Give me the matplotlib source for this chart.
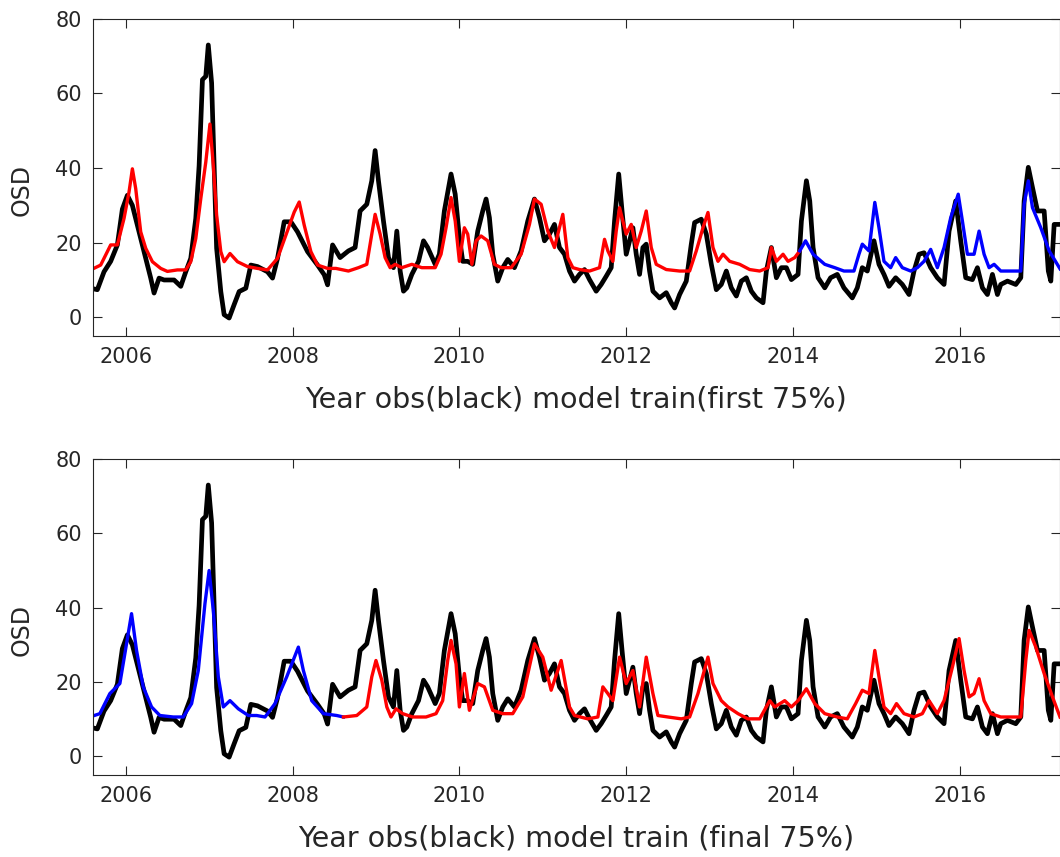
import numpy as np
import matplotlib
matplotlib.use("Agg")
import matplotlib.pyplot as plt

# ----- observed OSD (black), same in both panels -----
obs_year = [2005.58, 2005.66, 2005.74, 2005.82, 2005.90, 2005.96, 2006.02, 2006.08, 2006.14, 2006.22,
            2006.30, 2006.34, 2006.40, 2006.46, 2006.58, 2006.66, 2006.72, 2006.78, 2006.84, 2006.88,
            2006.92, 2006.96, 2006.99, 2007.03, 2007.06, 2007.09, 2007.14, 2007.18, 2007.24, 2007.30,
            2007.36, 2007.44, 2007.50, 2007.58, 2007.70, 2007.76, 2007.82, 2007.90, 2007.98, 2008.06,
            2008.18, 2008.30, 2008.38, 2008.42, 2008.48, 2008.57, 2008.67, 2008.75, 2008.81, 2008.89,
            2008.95, 2008.99, 2009.03, 2009.09, 2009.15, 2009.21, 2009.25, 2009.29, 2009.33, 2009.37,
            2009.43, 2009.51, 2009.57, 2009.62, 2009.71, 2009.76, 2009.82, 2009.90, 2009.95, 2010.00,
            2010.04, 2010.10, 2010.16, 2010.22, 2010.28, 2010.32, 2010.36, 2010.40, 2010.46, 2010.52,
            2010.58, 2010.66, 2010.74, 2010.82, 2010.90, 2010.96, 2011.02, 2011.08, 2011.14, 2011.20,
            2011.26, 2011.32, 2011.38, 2011.44, 2011.50, 2011.56, 2011.64, 2011.70, 2011.76, 2011.82,
            2011.86, 2011.91, 2011.95, 2012.00, 2012.04, 2012.08, 2012.12, 2012.16, 2012.20, 2012.24,
            2012.28, 2012.32, 2012.40, 2012.48, 2012.54, 2012.58, 2012.64, 2012.72, 2012.78, 2012.82,
            2012.90, 2012.96, 2013.02, 2013.08, 2013.14, 2013.20, 2013.26, 2013.32, 2013.38, 2013.44,
            2013.50, 2013.56, 2013.64, 2013.68, 2013.74, 2013.80, 2013.86, 2013.92, 2013.98, 2014.06,
            2014.10, 2014.16, 2014.20, 2014.24, 2014.30, 2014.38, 2014.45, 2014.53, 2014.61, 2014.71,
            2014.77, 2014.83, 2014.89, 2014.97, 2015.03, 2015.09, 2015.15, 2015.23, 2015.31, 2015.39,
            2015.45, 2015.51, 2015.57, 2015.65, 2015.73, 2015.81, 2015.87, 2015.95, 2016.01, 2016.07,
            2016.15, 2016.21, 2016.27, 2016.33, 2016.39, 2016.45, 2016.49, 2016.57, 2016.67, 2016.73,
            2016.77, 2016.82, 2016.87, 2016.93, 2017.01, 2017.06, 2017.09, 2017.13, 2017.20]
obs_val = [7.8, 7.4, 12.2, 15.0, 19.4, 29.0, 32.7, 30.0, 24.7, 17.6,
           10.5, 6.5, 10.5, 10.0, 10.0, 8.3, 12.2, 15.8, 26.5, 40.6,
           63.7, 64.6, 73.0, 62.8, 40.6, 18.5, 6.9, 0.7, -0.2, 3.4,
           6.9, 7.8, 14.0, 13.6, 12.2, 10.5, 15.8, 25.6, 25.6, 22.9,
           17.6, 14.0, 11.4, 8.7, 19.4, 16.0, 17.8, 18.7, 28.5, 30.3,
           36.6, 44.7, 36.6, 25.8, 16.0, 13.3, 23.1, 12.4, 7.0, 7.9,
           11.5, 15.0, 20.5, 18.7, 14.2, 16.9, 28.5, 38.4, 33.0, 21.4,
           15.0, 15.0, 14.2, 23.1, 28.5, 31.7, 26.7, 16.9, 9.7, 13.3,
           15.5, 13.3, 17.8, 25.8, 31.7, 26.7, 20.5, 22.3, 24.9, 18.7,
           16.9, 12.4, 9.7, 11.5, 12.8, 10.1, 7.0, 8.8, 11.0, 13.3,
           25.8, 38.4, 28.5, 16.9, 20.5, 24.0, 16.9, 11.5, 18.7, 19.6,
           12.4, 7.0, 5.2, 6.6, 3.9, 2.5, 6.1, 9.7, 19.6, 25.4,
           26.3, 22.3, 14.2, 7.4, 8.8, 12.4, 7.9, 5.7, 9.7, 10.6,
           7.0, 5.2, 3.9, 12.4, 18.7, 10.6, 13.3, 13.3, 10.1, 11.5,
           25.8, 36.6, 31.2, 18.7, 10.6, 7.9, 10.6, 11.5, 7.9, 5.2,
           7.9, 13.3, 12.4, 20.5, 14.2, 11.5, 8.3, 10.6, 8.8, 6.1,
           12.4, 16.9, 17.3, 13.3, 10.6, 8.8, 23.1, 31.2, 20.5, 10.6,
           10.1, 13.3, 7.9, 6.1, 11.5, 6.1, 8.8, 9.7, 8.8, 10.6,
           31.2, 40.2, 34.8, 28.5, 28.5, 12.4, 9.7, 24.9, 24.9]

# ----- top panel: trained on first 75% (red), rest (blue) -----
top_train_year = [2005.58, 2005.70, 2005.82, 2005.90, 2005.98, 2006.04, 2006.08, 2006.12, 2006.18, 2006.24,
                  2006.32, 2006.42, 2006.50, 2006.62, 2006.72, 2006.78, 2006.84, 2006.90, 2006.96, 2007.01,
                  2007.05, 2007.09, 2007.14, 2007.18, 2007.25, 2007.34, 2007.46, 2007.58, 2007.70, 2007.82,
                  2007.92, 2008.02, 2008.08, 2008.14, 2008.22, 2008.30, 2008.42, 2008.52, 2008.67, 2008.79,
                  2008.89, 2008.95, 2008.99, 2009.05, 2009.11, 2009.17, 2009.23, 2009.31, 2009.43, 2009.55,
                  2009.71, 2009.78, 2009.84, 2009.90, 2009.95, 2010.00, 2010.06, 2010.10, 2010.15, 2010.20,
                  2010.26, 2010.34, 2010.42, 2010.50, 2010.62, 2010.74, 2010.84, 2010.90, 2010.98, 2011.06,
                  2011.14, 2011.24, 2011.30, 2011.36, 2011.44, 2011.56, 2011.68, 2011.74, 2011.78, 2011.84,
                  2011.88, 2011.92, 2011.96, 2012.00, 2012.06, 2012.12, 2012.18, 2012.24, 2012.30, 2012.36,
                  2012.48, 2012.64, 2012.76, 2012.84, 2012.92, 2012.98, 2013.04, 2013.10, 2013.16, 2013.24,
                  2013.36, 2013.48, 2013.60, 2013.70, 2013.74, 2013.80, 2013.88, 2013.94, 2014.02, 2014.08]
top_train_val = [12.7, 14.0, 19.4, 19.4, 26.5, 33.6, 39.8, 34.5, 22.9, 18.5,
                 14.9, 13.1, 12.3, 12.7, 12.7, 14.9, 21.1, 31.8, 41.6, 51.8,
                 40.7, 27.4, 17.6, 14.9, 17.1, 14.9, 13.6, 13.1, 12.7, 15.8,
                 22.0, 28.2, 30.9, 24.7, 17.6, 14.0, 13.1, 13.1, 12.4, 13.3,
                 14.2, 22.3, 27.6, 22.3, 16.0, 13.3, 14.2, 13.3, 14.2, 13.3,
                 13.3, 16.9, 24.0, 32.1, 25.8, 15.0, 24.0, 22.3, 14.2, 20.5,
                 21.8, 20.5, 14.2, 13.3, 13.3, 16.9, 24.9, 31.7, 30.3, 23.1,
                 18.7, 27.6, 16.0, 13.3, 12.8, 12.4, 13.3, 20.9, 17.8, 15.0,
                 23.1, 29.4, 25.8, 22.3, 24.9, 18.7, 23.1, 28.5, 18.7, 14.2,
                 12.8, 12.4, 12.4, 17.8, 24.0, 28.1, 18.7, 15.0, 16.9, 15.0,
                 14.2, 12.8, 12.4, 13.3, 18.7, 15.0, 16.9, 15.0, 16.0, 17.8]
top_test_year = [2014.08, 2014.15, 2014.24, 2014.38, 2014.50, 2014.61, 2014.73, 2014.79, 2014.83, 2014.91,
                 2014.98, 2015.03, 2015.09, 2015.17, 2015.23, 2015.31, 2015.41, 2015.49, 2015.57, 2015.65,
                 2015.73, 2015.81, 2015.89, 2015.98, 2016.03, 2016.09, 2016.17, 2016.23, 2016.29, 2016.35,
                 2016.41, 2016.49, 2016.61, 2016.73, 2016.77, 2016.82, 2016.87, 2016.97, 2017.07, 2017.20]
top_test_val = [17.8, 20.5, 16.9, 14.2, 13.3, 12.4, 12.4, 16.9, 19.6, 17.8,
                30.8, 24.0, 15.0, 13.3, 16.0, 13.3, 12.4, 13.3, 15.0, 18.2,
                13.3, 18.7, 26.7, 33.0, 25.8, 16.9, 16.9, 23.1, 16.9, 13.3,
                14.2, 12.4, 12.4, 12.4, 30.3, 36.6, 29.4, 24.0, 17.8, 13.0]

# ----- bottom panel: first 25% (blue), trained on final 75% (red) -----
bot_test_year = [2005.57, 2005.69, 2005.81, 2005.93, 2006.01, 2006.07, 2006.13, 2006.21, 2006.31, 2006.41,
                 2006.57, 2006.69, 2006.79, 2006.87, 2006.95, 2007.00, 2007.05, 2007.11, 2007.17, 2007.25,
                 2007.35, 2007.47, 2007.57, 2007.67, 2007.79, 2007.93, 2008.07, 2008.13, 2008.23, 2008.37,
                 2008.53, 2008.61]
bot_test_val = [10.6, 11.5, 16.9, 19.6, 30.3, 38.4, 28.5, 18.7, 13.3, 11.0,
                10.6, 10.6, 14.2, 23.1, 41.1, 50.0, 39.3, 21.4, 13.3, 15.0,
                12.8, 11.0, 11.0, 10.6, 14.2, 21.4, 29.4, 23.1, 15.0, 11.5,
                11.0, 10.6]
bot_train_year = [2008.61, 2008.77, 2008.89, 2008.95, 2009.00, 2009.07, 2009.13, 2009.18, 2009.24, 2009.32,
                  2009.44, 2009.60, 2009.72, 2009.80, 2009.86, 2009.90, 2009.96, 2010.00, 2010.06, 2010.12,
                  2010.22, 2010.30, 2010.40, 2010.52, 2010.64, 2010.76, 2010.90, 2011.00, 2011.10, 2011.22,
                  2011.32, 2011.38, 2011.54, 2011.66, 2011.72, 2011.78, 2011.84, 2011.92, 2012.00, 2012.08,
                  2012.16, 2012.24, 2012.32, 2012.38, 2012.50, 2012.66, 2012.76, 2012.86, 2012.98, 2013.04,
                  2013.14, 2013.22, 2013.34, 2013.46, 2013.60, 2013.72, 2013.78, 2013.90, 2013.98, 2014.06,
                  2014.16, 2014.26, 2014.38, 2014.53, 2014.65, 2014.75, 2014.83, 2014.91, 2014.98, 2015.03,
                  2015.09, 2015.17, 2015.24, 2015.33, 2015.45, 2015.55, 2015.63, 2015.73, 2015.81, 2015.91,
                  2015.99, 2016.05, 2016.11, 2016.17, 2016.23, 2016.29, 2016.37, 2016.49, 2016.61, 2016.73,
                  2016.79, 2016.83, 2016.91, 2017.01, 2017.11, 2017.20]
bot_train_val = [10.6, 11.0, 13.3, 21.4, 25.8, 20.5, 13.3, 10.6, 12.8, 11.5,
                 10.6, 10.6, 11.5, 15.0, 25.8, 31.2, 24.9, 13.3, 22.3, 12.4,
                 19.6, 18.7, 12.4, 11.5, 11.5, 16.0, 30.3, 26.7, 17.8, 25.8,
                 13.3, 11.0, 10.1, 10.6, 18.7, 16.9, 15.0, 26.7, 19.6, 23.1,
                 13.3, 26.7, 16.9, 11.0, 10.6, 10.1, 10.6, 16.9, 26.7, 19.6,
                 15.0, 13.3, 11.5, 10.1, 10.1, 15.0, 13.3, 15.0, 13.3, 15.0,
                 18.2, 14.2, 11.5, 10.6, 10.1, 14.2, 17.8, 16.9, 28.5, 21.4,
                 13.3, 11.5, 14.2, 11.5, 10.6, 11.5, 15.0, 11.5, 15.0, 24.0,
                 31.7, 23.1, 16.0, 16.9, 20.9, 15.0, 11.5, 10.6, 10.6, 10.6,
                 25.8, 33.9, 29.4, 22.3, 16.0, 10.6]

xticks = [2006, 2008, 2010, 2012, 2014, 2016]
yticks = [0, 20, 40, 60, 80]
xlabels = ['Year obs(black) model train(first 75%)',
           'Year obs(black) model train (final 75%)']

grey = '#262626'
plt.rcParams['font.family'] = 'DejaVu Sans'

fig = plt.figure(figsize=(10.6, 8.57), dpi=100)
ax1 = fig.add_axes([0.0875, 0.608, 0.9125, 0.370])
ax2 = fig.add_axes([0.0875, 0.0957, 0.9125, 0.3687])

panels = [(ax1, top_train_year, top_train_val, top_test_year, top_test_val, 'r', 'b'),
          (ax2, bot_test_year, bot_test_val, bot_train_year, bot_train_val, 'b', 'r')]

for i, (ax, xa, ya, xb, yb, ca, cb) in enumerate(panels):
    ax.plot(obs_year, obs_val, color='k', lw=3.4)
    ax.plot(xa, ya, color=ca, lw=2.4)
    ax.plot(xb, yb, color=cb, lw=2.4)
    ax.set_xlim(2005.605, 2017.2)
    ax.set_ylim(-5, 80)
    ax.set_xticks(xticks)
    ax.set_yticks(yticks)
    ax.tick_params(direction='in', top=True, right=True, length=6.5, width=0.8,
                   labelsize=15, colors=grey, pad=8)
    for s in ax.spines.values():
        s.set_color(grey)
        s.set_linewidth(0.8)
    ax.set_ylabel('OSD', fontsize=17, color=grey)
    ax.yaxis.set_label_coords(-0.061, 0.46)
    ax.set_xlabel(xlabels[i], fontsize=20.5, color=grey, labelpad=13)

fig.savefig('out.png', dpi=100)
